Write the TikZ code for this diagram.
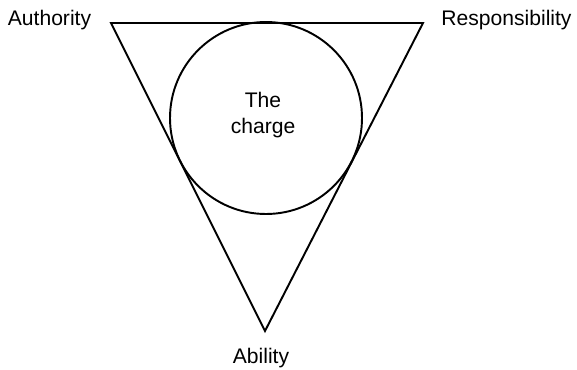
\documentclass[tikz,border=0pt]{standalone}
\usepackage{fontspec}
\setmainfont{Liberation Sans}
\usetikzlibrary{positioning}

\begin{document}
\begin{tikzpicture}[font=\fontsize{12}{14.8}\selectfont,line width=1.1pt,
 lbl/.style={anchor=base,inner sep=0pt}]
\useasboundingbox (0,0) rectangle (11.54,7.38);
\coordinate (ta) at (2.22,6.92);
\coordinate (tr) at (8.46,6.92);
\coordinate (tb) at (5.30,0.76);
\draw (ta) -- (tr) -- (tb) -- cycle;
\node[draw,circle,minimum size=3.84cm,inner sep=0pt] (charge) at (5.32,5.02) {};
\node[lbl] (the) at (5.26,5.24) {The};
\node[lbl] (chg) at (5.26,4.72) {charge};
\node[lbl] (auth) at (0.99,6.88) {Authority};
\node[lbl] (resp) at (10.13,6.88) {Responsibility};
\node[lbl] (abil) at (5.22,0.12) {Ability};
\end{tikzpicture}
\end{document}
